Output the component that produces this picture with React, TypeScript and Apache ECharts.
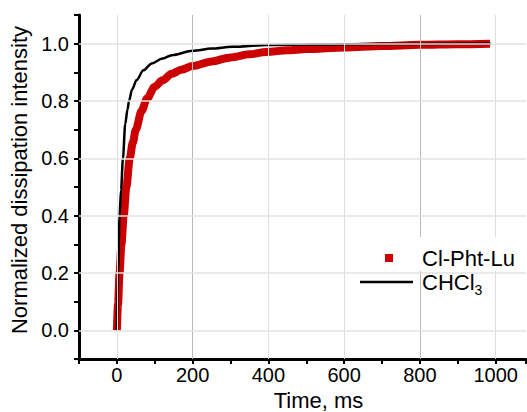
import React, { useEffect, useRef } from "react";
import * as echarts from "echarts";

const redTime = [0, 3, 7, 12, 18, 25, 34, 42, 50, 65, 80, 100, 120, 145, 170, 200, 250, 300, 350, 394, 450, 500, 600, 700, 800, 900, 985];
const redValue = [0, 0.09, 0.2, 0.3, 0.4, 0.5, 0.6, 0.655, 0.7, 0.765, 0.81, 0.85, 0.872, 0.895, 0.909, 0.922, 0.938, 0.952, 0.963, 0.971, 0.977, 0.981, 0.987, 0.992, 0.996, 0.998, 1.0];

const blackTime = [0, 3, 7, 11, 16, 22, 28, 32, 40, 52, 70, 92, 120, 145, 200, 250, 305, 394, 500, 600, 800, 987];
const blackValue = [0, 0.2, 0.4, 0.49, 0.6, 0.72, 0.77, 0.8, 0.84, 0.873, 0.907, 0.931, 0.948, 0.96, 0.975, 0.983, 0.989, 0.995, 0.997, 0.998, 0.999, 1.0];

const gridX = [0, 200, 400, 600, 800, 1000];
const gridY = [0, 0.2, 0.4, 0.6, 0.8, 1.0];

const seriesNames = ["Cl-Pht-Lu", "CHCl3"];

const FONT = "Liberation Sans, Arial, sans-serif";

export default function App() {
  const ref = useRef<HTMLDivElement>(null);
  useEffect(() => {
    if (!ref.current) return;
    const chart = echarts.init(ref.current, null, { renderer: "svg" });
    const option: any = {
      animation: false,
      grid: { left: 79, right: 1, top: 15, bottom: 53, containLabel: false, outerBoundsMode: "none" },
      xAxis: {
        type: "value",
        min: -100,
        max: 1080,
        interval: 100,
        axisLine: { show: true, onZero: false, lineStyle: { color: "#000", width: 3 } },
        axisTick: { show: true, length: 5, lineStyle: { color: "#000", width: 2 } },
        axisLabel: {
          formatter: (v: number) => (Math.round(v) % 200 === 0 ? String(Math.round(v)) : ""),
          fontSize: 20,
          color: "#000",
          fontFamily: FONT,
          margin: 6,
          hideOverlap: false,
        },
        splitLine: { show: false },
        name: "Time, ms",
        nameLocation: "middle",
        nameGap: 27,
        nameTextStyle: { fontSize: 22, color: "#000", fontFamily: FONT, padding: [0, 0, 0, 32] },
      },
      yAxis: {
        type: "value",
        min: -0.1,
        max: 1.1,
        interval: 0.1,
        axisLine: { show: true, onZero: false, lineStyle: { color: "#000", width: 3 } },
        axisTick: { show: true, length: 5, lineStyle: { color: "#000", width: 2 } },
        axisLabel: {
          formatter: (v: number) => (Math.round(v * 10) % 2 === 0 ? v.toFixed(1) : ""),
          fontSize: 20,
          color: "#000",
          fontFamily: FONT,
          margin: 10,
        },
        splitLine: { show: false },
        name: "Normalized dissipation intensity",
        nameLocation: "middle",
        nameGap: 45,
        nameTextStyle: { fontSize: 22, color: "#000", fontFamily: FONT, padding: [0, 0, 0, 14] },
      },
      legend: [
        {
          data: [{ name: seriesNames[0], icon: "rect" }],
          z: 6,
          left: 358,
          top: 237,
          orient: "vertical",
          itemWidth: 8,
          itemHeight: 8,
          padding: [10, 10, 2, 27],
          backgroundColor: "#fff",
          selectedMode: false,
          textStyle: { fontSize: 22, color: "#000", fontFamily: FONT, padding: [0, 0, 0, 24] },
        },
        {
          data: [{ name: seriesNames[1], icon: "rect", itemStyle: { color: "#000" } }],
          z: 5,
          left: 358,
          top: 266,
          orient: "vertical",
          itemWidth: 53,
          itemHeight: 2.5,
          padding: [5, 50, 6, 2],
          backgroundColor: "#fff",
          selectedMode: false,
          formatter: () => "{a|CHCl}{b|3}",
          textStyle: {
            fontSize: 22,
            color: "#000",
            fontFamily: FONT,
            padding: [0, 0, 0, 4],
            rich: {
              a: { fontSize: 22, color: "#000", fontFamily: FONT },
              b: { fontSize: 14, color: "#000", fontFamily: FONT, padding: [15, 0, 0, 0] },
            },
          },
        },
      ],
      series: [
        {
          type: "line",
          data: [],
          z: 1,
          silent: true,
          markLine: {
            silent: true,
            symbol: "none",
            animation: false,
            label: { show: false },
            data: [
              ...gridX.map((x) => ({
                xAxis: x,
                lineStyle: { type: "solid", color: x === 200 || x === 800 ? "#b8b8b8" : "#dedede", width: 1 },
              })),
              ...gridY.map((y) => ({
                yAxis: y,
                lineStyle: { type: "solid", color: "#e2e2e2", width: 1.5 },
              })),
            ],
          },
        },
        {
          name: seriesNames[0],
          type: "line",
          z: 2,
          data: redTime.map((t, i) => [t, redValue[i]]),
          showSymbol: false,
          symbol: "rect",
          smooth: 0.3,
          smoothMonotone: "x",
          itemStyle: { color: "#cc0000" },
          lineStyle: { color: "#cc0000", width: 8, join: "round" },
        },
        {
          name: seriesNames[1],
          type: "line",
          z: 3,
          data: blackTime.map((t, i) => [t, blackValue[i]]),
          symbol: "none",
          smooth: 0.3,
          smoothMonotone: "x",
          itemStyle: { color: "#000" },
          lineStyle: { color: "#000", width: 2.5 },
        },
      ],
    };
    chart.setOption(option);
    return () => chart.dispose();
  }, []);
  return <div ref={ref} style={{ position: "absolute", left: 0, top: 0, width: 527, height: 412 }} />;
}
